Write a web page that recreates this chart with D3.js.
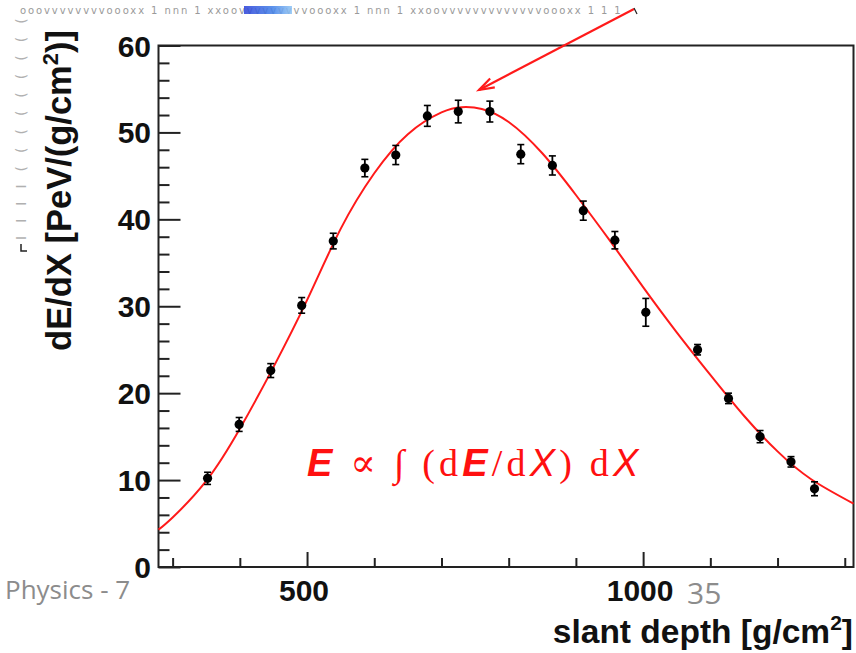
<!DOCTYPE html>
<html>
<head>
<meta charset="utf-8">
<script src="https://cdn.jsdelivr.net/npm/d3@7"></script>
<style>
  html, body { margin: 0; padding: 0; background: #fff; }
  svg { display: block; }
</style>
</head>
<body>
<svg id="chart" width="856" height="653"></svg>
<script>
// Measured longitudinal profile: slant depth (g/cm^2) and energy deposit dE/dX (PeV/(g/cm^2))
const depth  = [352, 399, 446, 492, 539, 586, 632, 679, 725, 772, 818, 865, 911, 958, 1004, 1081, 1127, 1174, 1220, 1255];
const dEdX   = [10.2, 16.4, 22.6, 30.1, 37.5, 45.9, 47.4, 51.9, 52.4, 52.4, 47.5, 46.2, 41.0, 37.6, 29.3, 25.0, 19.4, 15.0, 12.1, 9.0];
const errors = [0.7, 0.8, 0.8, 0.9, 0.9, 1.0, 1.1, 1.2, 1.3, 1.2, 1.1, 1.1, 1.1, 1.0, 1.6, 0.6, 0.6, 0.7, 0.6, 0.8];

// Fitted profile curve, sampled along depth
const fitDepth = [279, 300, 350, 400, 450, 500, 550, 600, 650, 700, 730, 760, 800, 850, 900, 950, 1000, 1050, 1100, 1150, 1200, 1250, 1313];
const fitValue = [4.3, 5.7, 9.9, 15.9, 23.0, 30.7, 38.9, 45.3, 49.8, 52.3, 52.9, 52.7, 51.2, 47.6, 42.8, 37.6, 32.2, 27.0, 22.1, 17.4, 13.3, 10.1, 7.3];

// Axis ticks
const xMajor = [500, 1000];
const xMinor = [300, 400, 600, 700, 800, 900, 1100, 1200, 1300];
const yMajor = [0, 10, 20, 30, 40, 50, 60];
const yMinor = d3.range(2, 60, 2).filter(v => v % 10 !== 0);

const svg = d3.select("#chart");
const frameL = 158.5, frameR = 853.5, frameT = 45.5, frameB = 567;

const x = d3.scaleLinear().domain([279, 1313]).range([frameL, frameR]);
const y = d3.scaleLinear().domain([0, 60]).range([frameB, frameT]);

const boldFont = "'Liberation Sans', Arial, Helvetica, sans-serif";
const slideFont = "'Open Sans', 'Noto Sans', sans-serif";

// Faint remnants along the top and left margins
svg.append("text")
  .attr("x", 20).attr("y", 14)
  .attr("font-family", "'DejaVu Sans', sans-serif")
  .attr("font-size", 10)
  .attr("fill", "#9a9a9a")
  .attr("letter-spacing", 1.9)
  .text("ooovvvvvvvvoooxx 1 nnn 1 xxoovvvvvvvvvoooxx 1 nnn 1 xxoovvvvvvvvvvvvvoooxx 1 1 1");
const blueGrad = svg.append("defs").append("linearGradient").attr("id", "bluepatch");
blueGrad.append("stop").attr("offset", "0%").attr("stop-color", "#2a3fd8");
blueGrad.append("stop").attr("offset", "60%").attr("stop-color", "#3f7fe8");
blueGrad.append("stop").attr("offset", "100%").attr("stop-color", "#8fc4f4");
svg.append("rect").attr("x", 244).attr("y", 6).attr("width", 48).attr("height", 8)
  .attr("fill", "url(#bluepatch)").attr("opacity", 0.85);

svg.append("text")
  .attr("transform", "translate(26,240) rotate(-90)")
  .attr("font-family", "'DejaVu Sans', sans-serif")
  .attr("font-size", 14)
  .attr("fill", "#b0b0b0")
  .attr("letter-spacing", 13)
  .text("IIII(((((((((");
svg.append("path").attr("d", "M21,244 V251 H27")
  .attr("fill", "none").attr("stroke", "#222").attr("stroke-width", 1.5);

// Frame
svg.append("rect")
  .attr("x", frameL).attr("y", frameT)
  .attr("width", frameR - frameL).attr("height", frameB - frameT)
  .attr("fill", "none").attr("stroke", "#222").attr("stroke-width", 2);

// X axis ticks (inward)
const gx = svg.append("g").attr("transform", `translate(0,${frameB})`);
gx.call(d3.axisBottom(x).tickValues(xMajor).tickSize(-15).tickFormat(""));
gx.append("g").call(d3.axisBottom(x).tickValues(xMinor).tickSize(-9).tickFormat(""));
gx.selectAll(".domain").remove();
gx.selectAll("line").attr("stroke", "#222").attr("stroke-width", 2);

// Y axis ticks (inward)
const gy = svg.append("g").attr("transform", `translate(${frameL},0)`);
gy.call(d3.axisLeft(y).tickValues(yMajor).tickSize(-22).tickFormat(""));
gy.append("g").call(d3.axisLeft(y).tickValues(yMinor).tickSize(-11).tickFormat(""));
gy.selectAll(".domain").remove();
gy.selectAll("line").attr("stroke", "#222").attr("stroke-width", 2);

// Tick labels
svg.append("g").selectAll("text").data(xMajor).join("text")
  .attr("x", d => x(d) - 3).attr("y", 601)
  .attr("text-anchor", "middle")
  .attr("font-family", boldFont).attr("font-weight", "bold").attr("font-size", 30)
  .attr("fill", "#111")
  .text(d => d);
svg.append("g").selectAll("text").data(yMajor).join("text")
  .attr("x", 151).attr("y", d => y(d) + 11)
  .attr("text-anchor", "end")
  .attr("font-family", boldFont).attr("font-weight", "bold").attr("font-size", 30)
  .attr("fill", "#111")
  .text(d => d);

// Axis titles
const yt = svg.append("text")
  .attr("transform", "translate(71,30) rotate(-90)")
  .attr("text-anchor", "end")
  .attr("font-family", boldFont).attr("font-weight", "bold").attr("font-size", 34.5)
  .attr("fill", "#111");
yt.append("tspan").text("dE/dX [PeV/(g/cm");
yt.append("tspan").attr("font-size", 22).attr("dy", -13).text("2");
yt.append("tspan").attr("dy", 13).text(")]");

const xt = svg.append("text")
  .attr("x", 853).attr("y", 643)
  .attr("text-anchor", "end")
  .attr("font-family", boldFont).attr("font-weight", "bold").attr("font-size", 33.5)
  .attr("fill", "#111");
xt.append("tspan").text("slant depth [g/cm");
xt.append("tspan").attr("font-size", 21).attr("dy", -13).text("2");
xt.append("tspan").attr("dy", 13).text("]");

// Fitted curve
const fit = fitDepth.map((d, i) => [d, fitValue[i]]);
svg.append("path")
  .datum(fit)
  .attr("fill", "none")
  .attr("stroke", "#ff1a1a")
  .attr("stroke-width", 2)
  .attr("d", d3.line().x(d => x(d[0])).y(d => y(d[1])).curve(d3.curveNatural));

// Data points with error bars
const pts = depth.map((d, i) => ({ d, v: dEdX[i], e: errors[i] }));
const gp = svg.append("g");
gp.selectAll("line.err").data(pts).join("line")
  .attr("class", "err")
  .attr("x1", p => x(p.d)).attr("x2", p => x(p.d))
  .attr("y1", p => y(p.v - p.e)).attr("y2", p => y(p.v + p.e))
  .attr("stroke", "#000").attr("stroke-width", 1.8);
gp.selectAll("line.capt").data(pts).join("line")
  .attr("class", "capt")
  .attr("x1", p => x(p.d) - 3.5).attr("x2", p => x(p.d) + 3.5)
  .attr("y1", p => y(p.v + p.e)).attr("y2", p => y(p.v + p.e))
  .attr("stroke", "#000").attr("stroke-width", 1.6);
gp.selectAll("line.capb").data(pts).join("line")
  .attr("class", "capb")
  .attr("x1", p => x(p.d) - 3.5).attr("x2", p => x(p.d) + 3.5)
  .attr("y1", p => y(p.v - p.e)).attr("y2", p => y(p.v - p.e))
  .attr("stroke", "#000").attr("stroke-width", 1.6);
gp.selectAll("circle").data(pts).join("circle")
  .attr("cx", p => x(p.d)).attr("cy", p => y(p.v))
  .attr("r", 4.6).attr("fill", "#000");

// Formula annotation
const serif = "'Liberation Serif', 'DejaVu Serif', serif";
const ft = svg.append("text")
  .attr("x", 307).attr("y", 476)
  .attr("font-family", serif).attr("font-size", 38)
  .attr("letter-spacing", 4.2)
  .attr("fill", "#ff1010");
ft.append("tspan").attr("font-family", boldFont).attr("font-weight", "bold").attr("font-style", "italic").text("E");
ft.append("tspan").text(" \u221D \u222B (d");
ft.append("tspan").attr("font-family", boldFont).attr("font-weight", "bold").attr("font-style", "italic").text("E");
ft.append("tspan").text("/d");
ft.append("tspan").attr("font-family", boldFont).attr("font-style", "italic").text("X");
ft.append("tspan").text(") d");
ft.append("tspan").attr("font-family", boldFont).attr("font-style", "italic").text("X");

// Arrow pointing at the maximum
const tip = [479, 90], tail = [634, 9];
const ang = Math.atan2(tail[1] - tip[1], tail[0] - tip[0]);
const hl = 16, hw = 0.32;
svg.append("line")
  .attr("x1", tail[0]).attr("y1", tail[1]).attr("x2", tip[0]).attr("y2", tip[1])
  .attr("stroke", "#ff1a1a").attr("stroke-width", 2.2);
svg.append("path")
  .attr("d", `M${tip[0] + hl * Math.cos(ang + hw)},${tip[1] + hl * Math.sin(ang + hw)} L${tip[0]},${tip[1]} L${tip[0] + hl * Math.cos(ang - hw)},${tip[1] + hl * Math.sin(ang - hw)}`)
  .attr("fill", "none").attr("stroke", "#ff1a1a").attr("stroke-width", 2.2);
svg.append("path").attr("d", "M634,8 L637,14")
  .attr("fill", "none").attr("stroke", "#222").attr("stroke-width", 1.2);

// Slide footer
svg.append("text").attr("x", 5).attr("y", 599)
  .attr("font-family", slideFont).attr("font-size", 26)
  .attr("fill", "#8c8c8c").text("Physics - 7");
svg.append("text").attr("x", 687).attr("y", 604)
  .attr("font-family", slideFont).attr("font-size", 30)
  .attr("fill", "#8c8c8c").text("35");
</script>
</body>
</html>
